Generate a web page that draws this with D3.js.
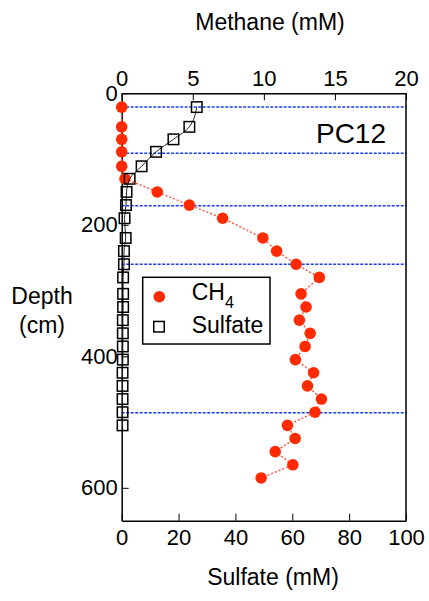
<!DOCTYPE html>
<html lang="en">
<head>
  <meta charset="UTF-8">
  <title>PC12 Methane and Sulfate Profile</title>
  <script src="https://d3js.org/d3.v7.min.js"></script>
  <style>
    body { margin: 0; background: #fff; }
    svg { display: block; font-family: "Liberation Sans", Arial, sans-serif; }
  </style>
</head>
<body>
  <svg width="429" height="601"></svg>

  <script>
    // depth (cm) of each sample
    const depths = [21, 51, 70, 89, 111, 130, 150, 170, 190, 220, 240, 260, 280, 305,
                    325, 345, 365, 385, 405, 425, 445, 465, 485, 505, 525, 545, 565, 585];
    // methane (mM), top axis
    const methane = [0, 0, 0, 0, 0, 0.23, 2.5, 4.76, 7.1, 9.93, 10.9, 12.27, 13.9, 12.62,
                     12.97, 12.5, 13.26, 12.9, 12.22, 13.5, 13.07, 14.05, 13.6, 11.66, 12.2, 10.8, 12.04, 9.81];
    // sulfate (mM), bottom axis - only measured down to 505 cm
    const sulfate = [26.4, 23.8, 18.2, 12.1, 7.0, 2.8, 1.7, 1.5, 1.0, 1.4, 0.8, 0.8, 0.5, 0.5,
                     0.5, 0.4, 0.4, 0.4, 0.4, 0.3, 0.3, 0.3, 0.3, 0.3];
    // horizontal reference lines (cm)
    const refDepths = [21, 91, 171, 260, 486];

    const methaneTicks = [0, 5, 10, 15, 20];
    const sulfateTicks = [0, 20, 40, 60, 80, 100];
    const depthTicks = [0, 200, 400, 600];

    const svg = d3.select("svg");
    const plot = { left: 121.7, right: 406, top: 93.3, bottom: 520.7 };

    const xMethane = d3.scaleLinear().domain([0, 20]).range([plot.left, plot.right]);
    const xSulfate = d3.scaleLinear().domain([0, 100]).range([plot.left, plot.right]);
    const yDepth = d3.scaleLinear().domain([0, 650]).range([plot.top, plot.bottom]);

    const ch4Data = depths.map((d, i) => ({ depth: d, value: methane[i] }));
    const so4Data = sulfate.map((v, i) => ({ depth: depths[i], value: v }));

    // blue reference lines
    svg.append("g").selectAll("line")
      .data(refDepths)
      .join("line")
      .attr("x1", plot.left).attr("x2", plot.right)
      .attr("y1", d => yDepth(d)).attr("y2", d => yDepth(d))
      .attr("stroke", "#1a3cf0")
      .attr("stroke-width", 1.5)
      .attr("stroke-dasharray", "3,1.5");

    // axes, ticks pointing inward
    const axisFont = g => g.selectAll("text").attr("font-size", 22).attr("fill", "#000")
      .attr("font-family", "'Liberation Sans', Arial, sans-serif");

    svg.append("g")
      .attr("transform", `translate(0,${plot.top})`)
      .call(d3.axisTop(xMethane).tickValues(methaneTicks).tickSize(-7).tickPadding(7).tickSizeOuter(0))
      .call(axisFont)
      .call(g => g.select(".domain").attr("stroke-width", 1.5));

    svg.append("g")
      .attr("transform", `translate(0,${plot.bottom})`)
      .call(d3.axisBottom(xSulfate).tickValues(sulfateTicks).tickSize(-7).tickPadding(9).tickSizeOuter(0))
      .call(axisFont)
      .call(g => g.select(".domain").attr("stroke-width", 1.5));

    svg.append("g")
      .attr("transform", `translate(${plot.left},0)`)
      .call(d3.axisLeft(yDepth).tickValues(depthTicks).tickSize(-7).tickPadding(4).tickSizeOuter(0))
      .call(axisFont)
      .call(g => g.select(".domain").attr("stroke-width", 1.5));

    svg.append("line")
      .attr("x1", plot.right).attr("x2", plot.right)
      .attr("y1", plot.top).attr("y2", plot.bottom)
      .attr("stroke", "#000").attr("stroke-width", 1.5);

    // methane: dotted line + red dots
    svg.append("path")
      .datum(ch4Data)
      .attr("fill", "none")
      .attr("stroke", "#ff5a4a")
      .attr("stroke-width", 1.5)
      .attr("stroke-dasharray", "2,2")
      .attr("d", d3.line().x(d => xMethane(d.value)).y(d => yDepth(d.depth)));

    svg.append("g").selectAll("circle")
      .data(ch4Data)
      .join("circle")
      .attr("cx", d => xMethane(d.value))
      .attr("cy", d => yDepth(d.depth))
      .attr("r", 5.8)
      .attr("fill", "#ff2a00");

    // sulfate: smooth solid line + open squares
    svg.append("path")
      .datum(so4Data)
      .attr("fill", "none")
      .attr("stroke", "#222")
      .attr("stroke-width", 1)
      .attr("d", d3.line().curve(d3.curveMonotoneY)
        .x(d => xSulfate(d.value)).y(d => yDepth(d.depth)));

    const sq = 10.5;
    svg.append("g").selectAll("rect")
      .data(so4Data)
      .join("rect")
      .attr("x", d => xSulfate(d.value) - sq / 2)
      .attr("y", d => yDepth(d.depth) - sq / 2)
      .attr("width", sq).attr("height", sq)
      .attr("fill", "none")
      .attr("stroke", "#000")
      .attr("stroke-width", 1.5);

    // axis titles
    svg.append("text").attr("x", 270).attr("y", 30).attr("text-anchor", "middle")
      .attr("font-size", 23).text("Methane (mM)");
    svg.append("text").attr("x", 273).attr("y", 585).attr("text-anchor", "middle")
      .attr("font-size", 23).text("Sulfate (mM)");
    svg.append("text").attr("x", 42).attr("y", 304).attr("text-anchor", "middle")
      .attr("font-size", 23).text("Depth");
    svg.append("text").attr("x", 42).attr("y", 333).attr("text-anchor", "middle")
      .attr("font-size", 23).text("(cm)");

    svg.append("text").attr("x", 386).attr("y", 143).attr("text-anchor", "end")
      .attr("font-size", 28).text("PC12");

    // legend
    const legend = svg.append("g");
    legend.append("rect")
      .attr("x", 142.7).attr("y", 277.3).attr("width", 127.3).attr("height", 66.7)
      .attr("fill", "#fff").attr("stroke", "#000").attr("stroke-width", 1.5);
    legend.append("circle").attr("cx", 159.3).attr("cy", 296.7).attr("r", 5.8).attr("fill", "#ff2a00");
    legend.append("rect").attr("x", 159 - sq / 2).attr("y", 326.7 - sq / 2)
      .attr("width", sq).attr("height", sq)
      .attr("fill", "none").attr("stroke", "#000").attr("stroke-width", 1.5);
    const ch4Label = legend.append("text").attr("x", 191.7).attr("y", 300).attr("font-size", 23);
    ch4Label.append("tspan").text("CH");
    ch4Label.append("tspan").attr("font-size", 16).attr("dy", 8).text("4");
    legend.append("text").attr("x", 191.7).attr("y", 333.3).attr("font-size", 23).text("Sulfate");
  </script>
</body>
</html>
